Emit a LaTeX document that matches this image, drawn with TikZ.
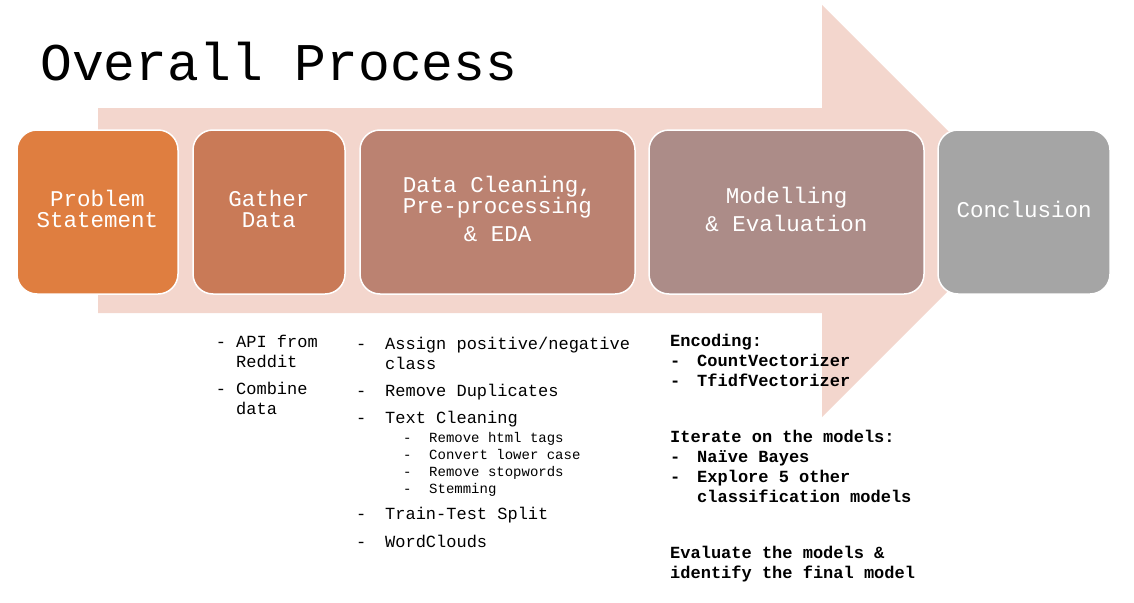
\documentclass[tikz,border=0pt]{standalone}
\usepackage{fontspec}
\setmainfont{Liberation Mono}

\definecolor{arrowpink}{HTML}{F3D6CD}
\definecolor{stepA}{HTML}{DF7E40}
\definecolor{stepB}{HTML}{C97A57}
\definecolor{stepC}{HTML}{BB8271}
\definecolor{stepD}{HTML}{AC8C88}
\definecolor{stepE}{HTML}{A5A5A5}

\newcommand\bul[1][29pt]{\makebox[#1][l]{-}}
\newcommand\subfont{\fontsize{14}{17}\selectfont}
\newcommand\boxfont{\fontsize{22.5}{21}\selectfont\setlength{\lineskiplimit}{-20pt}}

\tikzset{
    stepbox/.style={draw=white, line width=1.5pt, rounded corners=20pt, text=white,
        align=center, minimum height=164pt, inner sep=0pt, text depth=6pt,
        font=\boxfont},
    listtext/.style={align=left, inner sep=0pt, anchor=base west,
        font=\fontsize{17}{20}\selectfont}
}

\begin{document}
\begin{tikzpicture}[x=1pt,y=-1pt]
    \useasboundingbox (0,0) rectangle (1134,602);

    % big arrow behind the steps
    \fill[arrowpink] (98,108) -- (822,108) -- (822,5) -- (1028,211)
        -- (822,417) -- (822,313) -- (98,313) -- cycle;

    \node[anchor=base west, inner sep=0pt, font=\fontsize{53}{60}\selectfont] (title) at (40,80) {Overall Process};

    % the five steps
    \node[stepbox, fill=stepA, minimum width=161pt] (problem) at (97.5,212) {Problem\\Statement};
    \node[stepbox, fill=stepB, minimum width=152pt] (gather) at (269,212) {Gather\\Data};
    \node[stepbox, fill=stepC, minimum width=275pt] (cleaning) at (497.5,212) {Data Cleaning,\\Pre-processing\\[7pt]\& EDA};
    \node[stepbox, fill=stepD, minimum width=275pt] (modelling) at (786.5,212) {Modelling\\[7pt]\& Evaluation};
    \node[stepbox, fill=stepE, minimum width=172pt] (conclusion) at (1024,212) {Conclusion};

    % details under the steps (anchored at the last line)
    \node[listtext] (gatherlist) at (215.6,414) {\bul[20.4pt]API from\\
        \hspace*{20.4pt}Reddit\\[7pt]
        \bul[20.4pt]Combine\\
        \hspace*{20.4pt}data};

    \node[listtext] (cleanlist) at (356,547) {\bul Assign positive/negative\\
        \hspace*{29pt}class\\[7pt]
        \bul Remove Duplicates\\[7pt]
        \bul Text Cleaning\\[-1pt]
        \hspace*{47pt}{\subfont\bul[26pt]Remove html tags}\\[-3pt]
        \hspace*{47pt}{\subfont\bul[26pt]Convert lower case}\\[-3pt]
        \hspace*{47pt}{\subfont\bul[26pt]Remove stopwords}\\[-3pt]
        \hspace*{47pt}{\subfont\bul[26pt]Stemming}\\[6pt]
        \bul Train-Test Split\\[8pt]
        \bul WordClouds};

    \node[listtext, font=\fontsize{17}{20}\selectfont\bfseries] (modellist) at (670,578) {Encoding:\\
        \bul[27pt]CountVectorizer\\
        \bul[27pt]TfidfVectorizer\\[36pt]
        Iterate on the models:\\
        \bul[27pt]Naïve Bayes\\
        \bul[27pt]Explore 5 other\\
        \hspace*{27pt}classification models\\[36pt]
        Evaluate the models \&\\
        identify the final model};
\end{tikzpicture}
\end{document}
